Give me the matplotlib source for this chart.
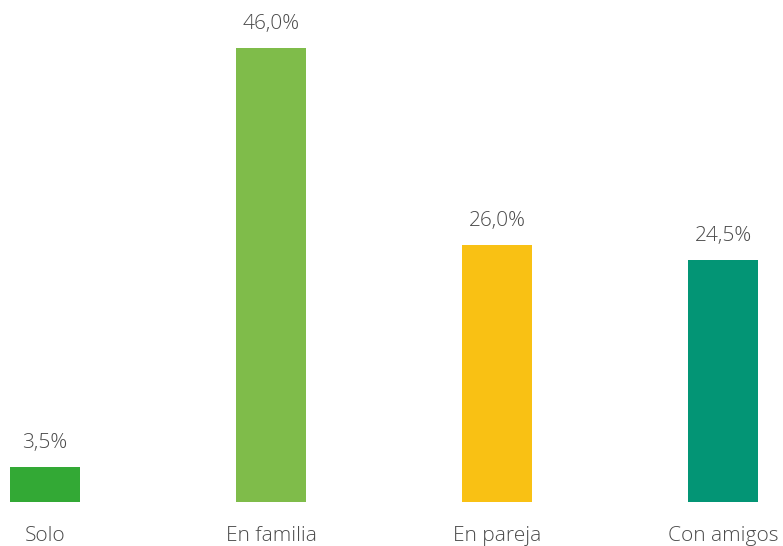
import matplotlib
matplotlib.use('Agg')
import matplotlib.pyplot as plt

categories = ['Solo', 'En familia', 'En pareja', 'Con amigos']
values = [3.5, 46.0, 26.0, 24.5]
value_labels = ['3,5%', '46,0%', '26,0%', '24,5%']
colors = ['#33a935', '#7fbc4a', '#f9c114', '#039575']

plt.rcParams['font.family'] = ['Open Sans', 'DejaVu Sans']

fig = plt.figure(figsize=(7.83, 5.46), dpi=100)
ax = fig.add_axes([0, 44 / 546, 1, 1 - 44 / 546])

x = range(len(categories))
ax.bar(x, values, width=0.314, color=colors)

# etiquetas de valor encima de cada barra
for i, v in enumerate(values):
    ax.annotate(value_labels[i], (i, v), xytext=(0, 24), textcoords='offset pixels',
                ha='center', va='center', fontsize=15, color='#4a4a4a', fontweight='light')

ax.set_xlim(-45 / 226, (783 - 45) / 226)
ax.set_ylim(0, (546 - 44) / 9.87)
ax.set_xticks(list(x))
ax.set_xticklabels(categories, fontsize=15, color='#4a4a4a', fontweight='light')
ax.tick_params(axis='x', length=0, pad=17)
ax.set_yticks([])
for s in ax.spines.values():
    s.set_visible(False)

fig.savefig('out.png', dpi=100)
